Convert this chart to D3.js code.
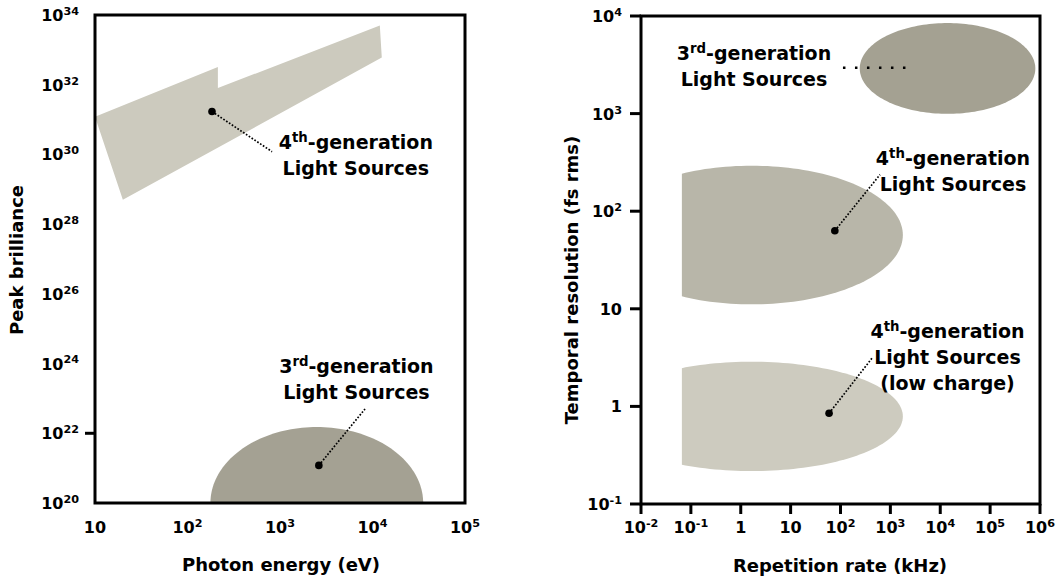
<!DOCTYPE html>
<html>
<meta charset="utf-8">
<title>Light source comparison</title>
<style>
  body { margin: 0; background: #fff; }
  svg text { font-family: "DejaVu Sans", "Liberation Sans", Arial, sans-serif; font-weight: bold; fill: #000; }
  .frame { fill: none; stroke: #000; stroke-width: 3; }
  .tick { stroke: #000; stroke-width: 3; }
  .lead { fill: none; stroke: #000; stroke-width: 1.7; stroke-dasharray: 1.7,1.7; }
</style>
<body>
<div id="chart"></div>
<script src="https://cdn.jsdelivr.net/npm/d3@7"></script>
<script>

// ---- left panel: peak brilliance vs photon energy
const energyTicks = [10, 1e2, 1e3, 1e4, 1e5];
const energyLabels = [['10', ''], ['10', '2'], ['10', '3'], ['10', '4'], ['10', '5']];
const brillTicks = [1e20, 1e22, 1e24, 1e26, 1e28, 1e30, 1e32, 1e34];
const brillLabels = ['20', '22', '24', '26', '28', '30', '32', '34'];

// 4th generation outline (eV, brilliance)
const gen4Energy = [10, 213, 213, 12000, 12600, 20];
const gen4Brill = [1.2e31, 3.2e32, 8e31, 5e33, 6e32, 5e28];

// 3rd generation: ellipse in log space (center, half width in decades)
const gen3Energy = [2500, 1.15];
const gen3Brill = [1e20, 2.18];

// ---- right panel: temporal resolution vs repetition rate
const repTicks = [1e-2, 1e-1, 1, 10, 1e2, 1e3, 1e4, 1e5, 1e6];
const repLabels = [['10', '-2'], ['10', '-1'], ['1', ''], ['10', ''], ['10', '2'], ['10', '3'], ['10', '4'], ['10', '5'], ['10', '6']];
const resTicks = [1e-1, 1, 10, 1e2, 1e3, 1e4];
const resLabels = [['10', '-1'], ['1', ''], ['10', ''], ['10', '2'], ['10', '3'], ['10', '4']];

// ellipses: [center, half width in decades], cut = left cut-off (kHz)
const regions = [
  { name: '3rd', rep: [14000, 1.76], res: [2900, 0.465], cut: null, color: '#a4a192' },
  { name: '4th', rep: [1.66, 3.03], res: [57, 0.71], cut: 0.066, color: '#b8b6a9' },
  { name: '4th low', rep: [1.66, 3.03], res: [0.79, 0.56], cut: 0.066, color: '#cdcbbf' }
];

// annotations: dot, end of leader line, label anchor (all in data units)
const leftNotes = [
  { lines: [['4', 'th', '-generation'], ['Light Sources']], dot: [184, 1.7e31], end: [820, 1.2e30], at: [6600, 1.4e30] },
  { lines: [['3', 'rd', '-generation'], ['Light Sources']], dot: [2630, 1.2e21], end: [8300, 5e22], at: [6700, 5.4e23] }
];
const rightNotes = [
  { lines: [['3', 'rd', '-generation'], ['Light Sources']], dot: null, end: null, line: [[112, 2950], [2140, 2950]], at: [1.84, 3540] },
  { lines: [['4', 'th', '-generation'], ['Light Sources']], dot: [77, 63], end: [620, 237], at: [18000, 297] },
  { lines: [['4', 'th', '-generation'], ['Light Sources'], ['(low charge)']], dot: [59, 0.85], end: [445, 3.2], at: [14000, 5.0] }
];

const width = 1059;
const height = 580;

const svg = d3.select('#chart').append('svg')
  .attr('width', width)
  .attr('height', height);

const xL = d3.scaleLog().domain([10, 1e5]).range([95, 465]);
const yL = d3.scaleLog().domain([1e20, 1e34]).range([503, 15]);
const xR = d3.scaleLog().domain([1e-2, 1e6]).range([641, 1040]);
const yR = d3.scaleLog().domain([1e-1, 1e4]).range([504, 16]);

const line = d3.line();

function ellipsePts(xs, ys, cx, cy, cut) {
  return d3.range(0, 361, 2).map(a => {
    const t = a * Math.PI / 180;
    let lx = Math.log10(cx[0]) + cx[1] * Math.cos(t);
    const ly = Math.log10(cy[0]) + cy[1] * Math.sin(t);
    if (cut) lx = Math.max(lx, Math.log10(cut));
    return [xs(Math.pow(10, lx)), ys(Math.pow(10, ly))];
  });
}

function supText(g, parts, size) {
  const t = g.append('text');
  t.append('tspan').text(parts[0]);
  if (parts[1]) t.append('tspan').attr('font-size', size * 0.7).attr('dy', -size * 0.38).text(parts[1]);
  if (parts[2]) t.append('tspan').attr('dy', size * 0.38).text(parts[2]);
  return t;
}

function note(g, xs, ys, n) {
  const fs = 19;
  n.lines.forEach((ln, i) => {
    supText(g, ln, fs)
      .attr('x', xs(n.at[0]))
      .attr('y', ys(n.at[1]) + i * 26)
      .attr('font-size', fs)
      .attr('text-anchor', 'middle');
  });
  if (n.dot) {
    g.append('path').attr('class', 'lead')
      .attr('d', line([[xs(n.dot[0]), ys(n.dot[1])], [xs(n.end[0]), ys(n.end[1])]]));
    g.append('circle')
      .attr('cx', xs(n.dot[0])).attr('cy', ys(n.dot[1])).attr('r', 3.8).attr('fill', '#000');
  }
  if (n.line) {
    g.append('path').attr('class', 'lead')
      .style('stroke-dasharray', '2.5,9.5')
      .style('stroke-width', 2.5)
      .attr('d', line(n.line.map(p => [xs(p[0]), ys(p[1])])));
  }
}

// clip paths
const defs = svg.append('defs');
defs.append('clipPath').attr('id', 'clipL').append('rect')
  .attr('x', 95).attr('y', 15).attr('width', 370).attr('height', 488);
defs.append('clipPath').attr('id', 'clipR').append('rect')
  .attr('x', 641).attr('y', 16).attr('width', 399).attr('height', 488);

// ---------- left panel
const gl = svg.append('g');
const shapesL = gl.append('g').attr('clip-path', 'url(#clipL)');

shapesL.append('path')
  .attr('d', line(gen4Energy.map((e, i) => [xL(e), yL(gen4Brill[i])])) + 'Z')
  .attr('fill', '#cccabe');

shapesL.append('path')
  .attr('d', line(ellipsePts(xL, yL, gen3Energy, gen3Brill, null)) + 'Z')
  .attr('fill', '#a4a193');

gl.append('rect').attr('class', 'frame')
  .attr('x', 95).attr('y', 15).attr('width', 370).attr('height', 488);

// only the 10^22 tick is drawn in the original
gl.append('line').attr('class', 'tick')
  .attr('x1', 85).attr('x2', 95).attr('y1', yL(1e22)).attr('y2', yL(1e22));

brillTicks.forEach((v, i) => {
  supText(gl, ['10', brillLabels[i]], 16)
    .attr('x', 79).attr('y', yL(v) + 6)
    .attr('font-size', 16).attr('text-anchor', 'end');
});
energyTicks.forEach((v, i) => {
  supText(gl, energyLabels[i], 16)
    .attr('x', xL(v)).attr('y', 533)
    .attr('font-size', 16).attr('text-anchor', 'middle');
});

leftNotes.forEach(n => note(gl, xL, yL, n));

gl.append('text').attr('x', 281).attr('y', 571).attr('font-size', 18)
  .attr('text-anchor', 'middle').text('Photon energy (eV)');
gl.append('text').attr('transform', 'translate(23,260) rotate(-90)').attr('font-size', 18)
  .attr('text-anchor', 'middle').text('Peak brilliance');

// ---------- right panel
const gr = svg.append('g');
const shapesR = gr.append('g').attr('clip-path', 'url(#clipR)');

regions.forEach(r => {
  shapesR.append('path')
    .attr('d', line(ellipsePts(xR, yR, r.rep, r.res, r.cut)) + 'Z')
    .attr('fill', r.color);
});

gr.append('rect').attr('class', 'frame')
  .attr('x', 641).attr('y', 16).attr('width', 399).attr('height', 488);

resTicks.forEach((v, i) => {
  gr.append('line').attr('class', 'tick')
    .attr('x1', 630).attr('x2', 641).attr('y1', yR(v)).attr('y2', yR(v));
  supText(gr, resLabels[i], 16)
    .attr('x', 622).attr('y', yR(v) + 6)
    .attr('font-size', 16).attr('text-anchor', 'end');
});
repTicks.forEach((v, i) => {
  gr.append('line').attr('class', 'tick')
    .attr('x1', xR(v)).attr('x2', xR(v)).attr('y1', 504).attr('y2', 514);
  supText(gr, repLabels[i], 16)
    .attr('x', xR(v)).attr('y', 533)
    .attr('font-size', 16).attr('text-anchor', 'middle');
});

rightNotes.forEach(n => note(gr, xR, yR, n));

gr.append('text').attr('x', 840).attr('y', 572).attr('font-size', 18)
  .attr('text-anchor', 'middle').text('Repetition rate (kHz)');
gr.append('text').attr('transform', 'translate(578,280) rotate(-90)').attr('font-size', 18)
  .attr('text-anchor', 'middle').text('Temporal resolution (fs rms)');

</script>
</body>
</html>
